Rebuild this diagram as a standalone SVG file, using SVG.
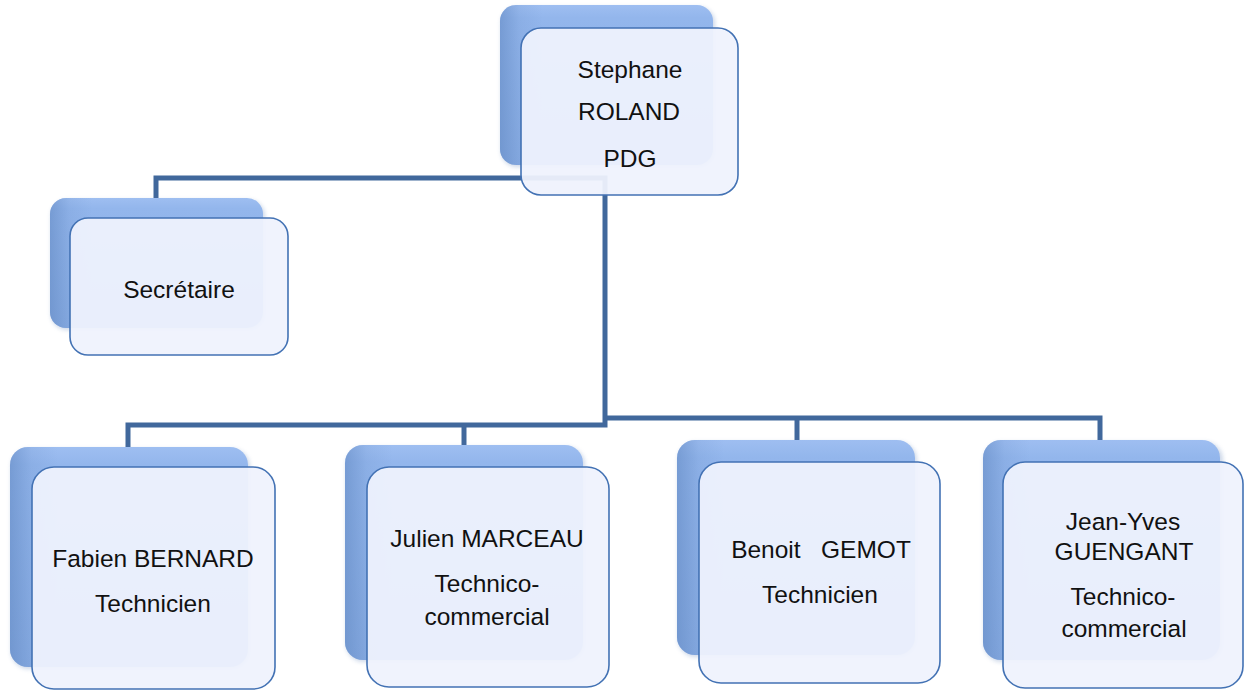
<svg xmlns="http://www.w3.org/2000/svg" width="1248" height="690" viewBox="0 0 1248 690">
<defs>
<linearGradient id="backV" x1="0" y1="0" x2="0" y2="1">
<stop offset="0" stop-color="#9ebef1"/>
<stop offset="0.08" stop-color="#93b6ec"/>
<stop offset="1" stop-color="#88ace3"/>
</linearGradient>
<linearGradient id="backH" x1="0" y1="0" x2="1" y2="0">
<stop offset="0" stop-color="#5f86c0" stop-opacity="0.55"/>
<stop offset="0.09" stop-color="#5f86c0" stop-opacity="0.15"/>
<stop offset="0.2" stop-color="#5f86c0" stop-opacity="0"/>
</linearGradient>
<filter id="blur" x="-10%" y="-10%" width="120%" height="120%">
<feGaussianBlur stdDeviation="2"/>
</filter>
</defs>
<style>
.conn{fill:none;stroke:#41689c;stroke-width:5;stroke-linejoin:miter}
.shadow{fill:#6f8fbf;opacity:0.35;filter:url(#blur)}
.back{fill:url(#backV)}
.backE{fill:url(#backH)}
.front{fill:#eff2fd;fill-opacity:0.94;stroke:#4372b4;stroke-width:1.6}
.t{font-family:"Liberation Sans",Arial,sans-serif;font-size:24.5px;fill:#111;text-anchor:middle}
</style>
<rect width="1248" height="690" fill="#ffffff"/>
<g id="connectors">
<path class="conn" d="M156,198 V178 H605 V425 H128 V447"/>
<path class="conn" d="M605,418 H1100 V440"/>
<path class="conn" d="M464,425 V446"/>
<path class="conn" d="M797,418 V440"/>
</g>
<g id="node-pdg">
<rect class="shadow" x="501" y="7" width="214" height="160" rx="16"/>
<rect class="back" x="500" y="5" width="213" height="160" rx="16"/>
<rect class="backE" x="500" y="5" width="213" height="160" rx="16"/>
<rect class="front" x="521" y="28" width="217" height="167" rx="20"/>
<text class="t" x="630" y="78">Stephane</text>
<text class="t" x="629" y="120">ROLAND</text>
<text class="t" x="630" y="167">PDG</text>
</g>
<g id="node-secretaire">
<rect class="shadow" x="51" y="200" width="214" height="130" rx="16"/>
<rect class="back" x="50" y="198" width="213" height="130" rx="16"/>
<rect class="backE" x="50" y="198" width="213" height="130" rx="16"/>
<rect class="front" x="70" y="218" width="218" height="137" rx="18"/>
<text class="t" x="179" y="298">Secrétaire</text>
</g>
<g id="node-fabien">
<rect class="shadow" x="11" y="449" width="239" height="220" rx="18"/>
<rect class="back" x="10" y="447" width="238" height="220" rx="18"/>
<rect class="backE" x="10" y="447" width="238" height="220" rx="18"/>
<rect class="front" x="32" y="467" width="243" height="222" rx="22"/>
<text class="t" x="153" y="567">Fabien BERNARD</text>
<text class="t" x="153" y="612">Technicien</text>
</g>
<g id="node-julien">
<rect class="shadow" x="346" y="447" width="239" height="215" rx="18"/>
<rect class="back" x="345" y="445" width="238" height="215" rx="18"/>
<rect class="backE" x="345" y="445" width="238" height="215" rx="18"/>
<rect class="front" x="367" y="467" width="242" height="220" rx="22"/>
<text class="t" x="487" y="547">Julien MARCEAU</text>
<text class="t" x="487" y="592">Technico-</text>
<text class="t" x="487" y="625">commercial</text>
</g>
<g id="node-benoit">
<rect class="shadow" x="678" y="442" width="239" height="215" rx="18"/>
<rect class="back" x="677" y="440" width="238" height="215" rx="18"/>
<rect class="backE" x="677" y="440" width="238" height="215" rx="18"/>
<rect class="front" x="699" y="462" width="241" height="221" rx="22"/>
<text class="t" x="821" y="558" xml:space="preserve">Benoit   GEMOT</text>
<text class="t" x="820" y="603">Technicien</text>
</g>
<g id="node-jeanyves">
<rect class="shadow" x="984" y="442" width="239" height="220" rx="18"/>
<rect class="back" x="983" y="440" width="237" height="220" rx="18"/>
<rect class="backE" x="983" y="440" width="237" height="220" rx="18"/>
<rect class="front" x="1003" y="462" width="240" height="226" rx="22"/>
<text class="t" x="1123" y="530">Jean-Yves</text>
<text class="t" x="1124" y="560">GUENGANT</text>
<text class="t" x="1123" y="605">Technico-</text>
<text class="t" x="1124" y="637">commercial</text>
</g>
</svg>
